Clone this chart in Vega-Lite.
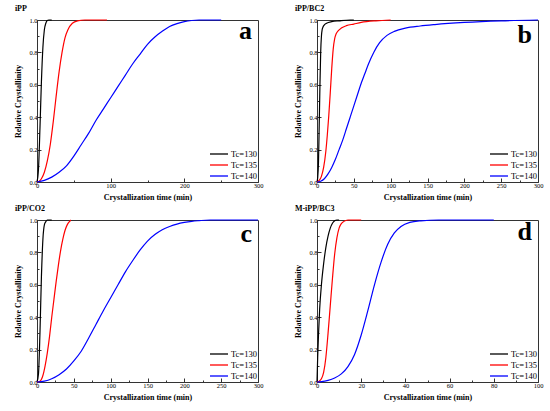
{
  "$schema": "https://vega.github.io/schema/vega-lite/v6.json",
  "background": "white",
  "padding": {"left": 14, "top": 4, "right": 5, "bottom": 5},
  "config": {
    "font": "Liberation Serif",
    "view": {"stroke": "#333", "strokeWidth": 1},
    "axis": {
      "grid": false, "domainColor": "#333", "tickColor": "#333",
      "labelFontSize": 6.5, "labelColor": "black", "labelFont": "Liberation Serif",
      "labelOverlap": false, "labelFlush": false,
      "titleFontSize": 8, "titleFontWeight": "bold", "titleColor": "black",
      "tickSize": -4, "labelPadding": 4, "titlePadding": 3
    },
    "axisY": {"titlePadding": 6},
    "title": {"anchor": "start", "fontSize": 8, "fontWeight": "bold", "offset": 0, "color": "black"},
    "legend": {
      "orient": "bottom-right", "offset": 1, "title": null,
      "symbolType": "M-1.8,0H1.8", "symbolSize": 100, "symbolStrokeWidth": 1.3,
      "labelFontSize": 8.5, "labelFont": "Liberation Serif", "labelColor": "black",
      "rowPadding": 0, "labelOffset": 6, "padding": 0
    }
  },
  "resolve": {"legend": {"color": "independent"}, "scale": {"x": "independent", "y": "independent"}},
  "columns": 2,
  "spacing": {"row": 2, "column": 30},
  "concat": [
    {
      "title": "iPP",
      "width": 221, "height": 162,
      "layer": [
        {
          "data": {"values": [
            {"Tc": "Tc=130", "t": 0, "X": 0}, {"Tc": "Tc=130", "t": 2, "X": 0.08}, {"Tc": "Tc=130", "t": 4, "X": 0.33},
            {"Tc": "Tc=130", "t": 6, "X": 0.62}, {"Tc": "Tc=130", "t": 8, "X": 0.83}, {"Tc": "Tc=130", "t": 10, "X": 0.94},
            {"Tc": "Tc=130", "t": 12, "X": 0.98}, {"Tc": "Tc=130", "t": 14, "X": 0.997}, {"Tc": "Tc=130", "t": 16, "X": 1},
            {"Tc": "Tc=130", "t": 20, "X": 1},
            {"Tc": "Tc=135", "t": 0, "X": 0}, {"Tc": "Tc=135", "t": 3, "X": 0.005}, {"Tc": "Tc=135", "t": 6, "X": 0.02},
            {"Tc": "Tc=135", "t": 10, "X": 0.06}, {"Tc": "Tc=135", "t": 14, "X": 0.13}, {"Tc": "Tc=135", "t": 18, "X": 0.23},
            {"Tc": "Tc=135", "t": 22, "X": 0.37}, {"Tc": "Tc=135", "t": 26, "X": 0.53}, {"Tc": "Tc=135", "t": 30, "X": 0.68},
            {"Tc": "Tc=135", "t": 34, "X": 0.8}, {"Tc": "Tc=135", "t": 38, "X": 0.89}, {"Tc": "Tc=135", "t": 42, "X": 0.94},
            {"Tc": "Tc=135", "t": 48, "X": 0.98}, {"Tc": "Tc=135", "t": 55, "X": 0.995}, {"Tc": "Tc=135", "t": 65, "X": 1},
            {"Tc": "Tc=135", "t": 95, "X": 1},
            {"Tc": "Tc=140", "t": 0, "X": 0}, {"Tc": "Tc=140", "t": 10, "X": 0.01}, {"Tc": "Tc=140", "t": 20, "X": 0.03},
            {"Tc": "Tc=140", "t": 30, "X": 0.06}, {"Tc": "Tc=140", "t": 40, "X": 0.1}, {"Tc": "Tc=140", "t": 50, "X": 0.16},
            {"Tc": "Tc=140", "t": 60, "X": 0.23}, {"Tc": "Tc=140", "t": 70, "X": 0.3}, {"Tc": "Tc=140", "t": 80, "X": 0.38},
            {"Tc": "Tc=140", "t": 90, "X": 0.45}, {"Tc": "Tc=140", "t": 100, "X": 0.52}, {"Tc": "Tc=140", "t": 110, "X": 0.59},
            {"Tc": "Tc=140", "t": 120, "X": 0.66}, {"Tc": "Tc=140", "t": 130, "X": 0.73}, {"Tc": "Tc=140", "t": 140, "X": 0.79},
            {"Tc": "Tc=140", "t": 150, "X": 0.85}, {"Tc": "Tc=140", "t": 160, "X": 0.895}, {"Tc": "Tc=140", "t": 170, "X": 0.93},
            {"Tc": "Tc=140", "t": 180, "X": 0.96}, {"Tc": "Tc=140", "t": 190, "X": 0.978}, {"Tc": "Tc=140", "t": 200, "X": 0.99},
            {"Tc": "Tc=140", "t": 210, "X": 0.997}, {"Tc": "Tc=140", "t": 220, "X": 1}, {"Tc": "Tc=140", "t": 250, "X": 1}
          ]},
          "mark": {"type": "line", "strokeWidth": 1.2, "interpolate": "monotone"},
          "encoding": {
            "x": {"field": "t", "type": "quantitative", "title": "Crystallization time (min)", "scale": {"domain": [0, 300], "nice": false},
              "axis": {"values": [0, 50, 100, 150, 200, 250, 300], "labelOverlap": false, "labelExpr": "datum.value % 100 === 0 ? datum.label : ''", "tickSize": {"condition": {"test": "datum.value % 100 === 0", "value": -4}, "value": -2}}},
            "y": {"field": "X", "type": "quantitative", "title": "Relative Crystallinity", "scale": {"domain": [0, 1], "nice": false},
              "axis": {"values": [0, 0.1, 0.2, 0.3, 0.4, 0.5, 0.6, 0.7, 0.8, 0.9, 1], "format": ".1f", "labelOverlap": false, "labelExpr": "round(datum.value * 10) % 2 === 0 ? datum.label : ''", "tickSize": {"condition": {"test": "round(datum.value * 10) % 2 === 0", "value": -4}, "value": -2}}},
            "color": {"field": "Tc", "type": "nominal", "scale": {"domain": ["Tc=130", "Tc=135", "Tc=140"], "range": ["black", "red", "blue"]}}
          }
        },
        {
          "data": {"values": [{"label": "a"}]},
          "mark": {"type": "text", "fontSize": 26, "fontWeight": "bold", "align": "right", "baseline": "alphabetic", "dx": -6, "dy": 19, "color": "black"},
          "encoding": {
            "x": {"datum": 300, "axis": {"values": [0, 50, 100, 150, 200, 250, 300], "labelOverlap": false, "labelExpr": "datum.value % 100 === 0 ? datum.label : ''", "tickSize": {"condition": {"test": "datum.value % 100 === 0", "value": -4}, "value": -2}}},
            "y": {"datum": 1, "axis": {"values": [0, 0.1, 0.2, 0.3, 0.4, 0.5, 0.6, 0.7, 0.8, 0.9, 1], "format": ".1f", "labelOverlap": false, "labelExpr": "round(datum.value * 10) % 2 === 0 ? datum.label : ''", "tickSize": {"condition": {"test": "round(datum.value * 10) % 2 === 0", "value": -4}, "value": -2}}},
            "text": {"field": "label"}
          }
        }
      ]
    },
    {
      "title": "iPP/BC2",
      "width": 221, "height": 162,
      "layer": [
        {
          "data": {"values": [
            {"Tc": "Tc=130", "t": 0, "X": 0}, {"Tc": "Tc=130", "t": 1, "X": 0.03}, {"Tc": "Tc=130", "t": 2, "X": 0.12},
            {"Tc": "Tc=130", "t": 3, "X": 0.35}, {"Tc": "Tc=130", "t": 4, "X": 0.6}, {"Tc": "Tc=130", "t": 5, "X": 0.8},
            {"Tc": "Tc=130", "t": 6, "X": 0.9}, {"Tc": "Tc=130", "t": 7, "X": 0.94}, {"Tc": "Tc=130", "t": 8, "X": 0.955},
            {"Tc": "Tc=130", "t": 10, "X": 0.97}, {"Tc": "Tc=130", "t": 13, "X": 0.98}, {"Tc": "Tc=130", "t": 20, "X": 0.99},
            {"Tc": "Tc=130", "t": 30, "X": 0.995}, {"Tc": "Tc=130", "t": 45, "X": 1}, {"Tc": "Tc=130", "t": 50, "X": 1},
            {"Tc": "Tc=135", "t": 0, "X": 0}, {"Tc": "Tc=135", "t": 3, "X": 0.01}, {"Tc": "Tc=135", "t": 6, "X": 0.035},
            {"Tc": "Tc=135", "t": 9, "X": 0.09}, {"Tc": "Tc=135", "t": 12, "X": 0.19}, {"Tc": "Tc=135", "t": 14, "X": 0.29},
            {"Tc": "Tc=135", "t": 16, "X": 0.41}, {"Tc": "Tc=135", "t": 18, "X": 0.55}, {"Tc": "Tc=135", "t": 20, "X": 0.7},
            {"Tc": "Tc=135", "t": 22, "X": 0.82}, {"Tc": "Tc=135", "t": 24, "X": 0.885}, {"Tc": "Tc=135", "t": 26, "X": 0.915},
            {"Tc": "Tc=135", "t": 29, "X": 0.935}, {"Tc": "Tc=135", "t": 33, "X": 0.95}, {"Tc": "Tc=135", "t": 40, "X": 0.965},
            {"Tc": "Tc=135", "t": 50, "X": 0.975}, {"Tc": "Tc=135", "t": 60, "X": 0.985}, {"Tc": "Tc=135", "t": 80, "X": 0.995},
            {"Tc": "Tc=135", "t": 100, "X": 1},
            {"Tc": "Tc=140", "t": 0, "X": 0}, {"Tc": "Tc=140", "t": 5, "X": 0.005}, {"Tc": "Tc=140", "t": 10, "X": 0.02},
            {"Tc": "Tc=140", "t": 15, "X": 0.05}, {"Tc": "Tc=140", "t": 20, "X": 0.09}, {"Tc": "Tc=140", "t": 25, "X": 0.14},
            {"Tc": "Tc=140", "t": 30, "X": 0.2}, {"Tc": "Tc=140", "t": 35, "X": 0.26}, {"Tc": "Tc=140", "t": 40, "X": 0.33},
            {"Tc": "Tc=140", "t": 45, "X": 0.4}, {"Tc": "Tc=140", "t": 50, "X": 0.47}, {"Tc": "Tc=140", "t": 55, "X": 0.54},
            {"Tc": "Tc=140", "t": 60, "X": 0.61}, {"Tc": "Tc=140", "t": 65, "X": 0.67}, {"Tc": "Tc=140", "t": 70, "X": 0.73},
            {"Tc": "Tc=140", "t": 77, "X": 0.8}, {"Tc": "Tc=140", "t": 85, "X": 0.86}, {"Tc": "Tc=140", "t": 95, "X": 0.905},
            {"Tc": "Tc=140", "t": 105, "X": 0.93}, {"Tc": "Tc=140", "t": 120, "X": 0.95}, {"Tc": "Tc=140", "t": 140, "X": 0.963},
            {"Tc": "Tc=140", "t": 160, "X": 0.972}, {"Tc": "Tc=140", "t": 200, "X": 0.985}, {"Tc": "Tc=140", "t": 250, "X": 0.995},
            {"Tc": "Tc=140", "t": 300, "X": 1}
          ]},
          "mark": {"type": "line", "strokeWidth": 1.2, "interpolate": "monotone"},
          "encoding": {
            "x": {"field": "t", "type": "quantitative", "title": "Crystallization time (min)", "scale": {"domain": [0, 300], "nice": false},
              "axis": {"values": [0, 25, 50, 75, 100, 125, 150, 175, 200, 225, 250, 275, 300], "labelOverlap": false, "labelExpr": "datum.value % 50 === 0 ? datum.label : ''", "tickSize": {"condition": {"test": "datum.value % 50 === 0", "value": -4}, "value": -2}}},
            "y": {"field": "X", "type": "quantitative", "title": "Relative Crystallinity", "scale": {"domain": [0, 1], "nice": false},
              "axis": {"values": [0, 0.1, 0.2, 0.3, 0.4, 0.5, 0.6, 0.7, 0.8, 0.9, 1], "format": ".1f", "labelOverlap": false, "labelExpr": "round(datum.value * 10) % 2 === 0 ? datum.label : ''", "tickSize": {"condition": {"test": "round(datum.value * 10) % 2 === 0", "value": -4}, "value": -2}}},
            "color": {"field": "Tc", "type": "nominal", "scale": {"domain": ["Tc=130", "Tc=135", "Tc=140"], "range": ["black", "red", "blue"]}}
          }
        },
        {
          "data": {"values": [{"label": "b"}]},
          "mark": {"type": "text", "fontSize": 26, "fontWeight": "bold", "align": "right", "baseline": "alphabetic", "dx": -6, "dy": 23, "color": "black"},
          "encoding": {
            "x": {"datum": 300, "axis": {"values": [0, 25, 50, 75, 100, 125, 150, 175, 200, 225, 250, 275, 300], "labelOverlap": false, "labelExpr": "datum.value % 50 === 0 ? datum.label : ''", "tickSize": {"condition": {"test": "datum.value % 50 === 0", "value": -4}, "value": -2}}},
            "y": {"datum": 1, "axis": {"values": [0, 0.1, 0.2, 0.3, 0.4, 0.5, 0.6, 0.7, 0.8, 0.9, 1], "format": ".1f", "labelOverlap": false, "labelExpr": "round(datum.value * 10) % 2 === 0 ? datum.label : ''", "tickSize": {"condition": {"test": "round(datum.value * 10) % 2 === 0", "value": -4}, "value": -2}}},
            "text": {"field": "label"}
          }
        }
      ]
    },
    {
      "title": "iPP/CO2",
      "width": 221, "height": 162,
      "layer": [
        {
          "data": {"values": [
            {"Tc": "Tc=130", "t": 0, "X": 0}, {"Tc": "Tc=130", "t": 2, "X": 0.05}, {"Tc": "Tc=130", "t": 4, "X": 0.3},
            {"Tc": "Tc=130", "t": 6, "X": 0.65}, {"Tc": "Tc=130", "t": 8, "X": 0.88}, {"Tc": "Tc=130", "t": 10, "X": 0.97},
            {"Tc": "Tc=130", "t": 12, "X": 0.99}, {"Tc": "Tc=130", "t": 14, "X": 1}, {"Tc": "Tc=130", "t": 20, "X": 1},
            {"Tc": "Tc=135", "t": 0, "X": 0}, {"Tc": "Tc=135", "t": 4, "X": 0.005}, {"Tc": "Tc=135", "t": 8, "X": 0.04},
            {"Tc": "Tc=135", "t": 11, "X": 0.1}, {"Tc": "Tc=135", "t": 14, "X": 0.18}, {"Tc": "Tc=135", "t": 17, "X": 0.28},
            {"Tc": "Tc=135", "t": 20, "X": 0.4}, {"Tc": "Tc=135", "t": 23, "X": 0.51}, {"Tc": "Tc=135", "t": 26, "X": 0.62},
            {"Tc": "Tc=135", "t": 29, "X": 0.72}, {"Tc": "Tc=135", "t": 32, "X": 0.81}, {"Tc": "Tc=135", "t": 35, "X": 0.88},
            {"Tc": "Tc=135", "t": 38, "X": 0.935}, {"Tc": "Tc=135", "t": 41, "X": 0.97}, {"Tc": "Tc=135", "t": 44, "X": 0.99},
            {"Tc": "Tc=135", "t": 46, "X": 1},
            {"Tc": "Tc=140", "t": 0, "X": 0}, {"Tc": "Tc=140", "t": 10, "X": 0.005}, {"Tc": "Tc=140", "t": 20, "X": 0.02},
            {"Tc": "Tc=140", "t": 30, "X": 0.045}, {"Tc": "Tc=140", "t": 40, "X": 0.08}, {"Tc": "Tc=140", "t": 50, "X": 0.13},
            {"Tc": "Tc=140", "t": 60, "X": 0.19}, {"Tc": "Tc=140", "t": 70, "X": 0.27}, {"Tc": "Tc=140", "t": 80, "X": 0.355},
            {"Tc": "Tc=140", "t": 90, "X": 0.44}, {"Tc": "Tc=140", "t": 100, "X": 0.52}, {"Tc": "Tc=140", "t": 110, "X": 0.6},
            {"Tc": "Tc=140", "t": 120, "X": 0.68}, {"Tc": "Tc=140", "t": 130, "X": 0.75}, {"Tc": "Tc=140", "t": 140, "X": 0.815},
            {"Tc": "Tc=140", "t": 150, "X": 0.87}, {"Tc": "Tc=140", "t": 160, "X": 0.91}, {"Tc": "Tc=140", "t": 170, "X": 0.94},
            {"Tc": "Tc=140", "t": 180, "X": 0.96}, {"Tc": "Tc=140", "t": 190, "X": 0.975}, {"Tc": "Tc=140", "t": 200, "X": 0.985},
            {"Tc": "Tc=140", "t": 210, "X": 0.992}, {"Tc": "Tc=140", "t": 220, "X": 0.996}, {"Tc": "Tc=140", "t": 235, "X": 1},
            {"Tc": "Tc=140", "t": 300, "X": 1}
          ]},
          "mark": {"type": "line", "strokeWidth": 1.2, "interpolate": "monotone"},
          "encoding": {
            "x": {"field": "t", "type": "quantitative", "title": "Crystallization time (min)", "scale": {"domain": [0, 300], "nice": false},
              "axis": {"values": [0, 25, 50, 75, 100, 125, 150, 175, 200, 225, 250, 275, 300], "labelOverlap": false, "labelExpr": "datum.value % 50 === 0 ? datum.label : ''", "tickSize": {"condition": {"test": "datum.value % 50 === 0", "value": -4}, "value": -2}}},
            "y": {"field": "X", "type": "quantitative", "title": "Relative Crystallinity", "scale": {"domain": [0, 1], "nice": false},
              "axis": {"values": [0, 0.1, 0.2, 0.3, 0.4, 0.5, 0.6, 0.7, 0.8, 0.9, 1], "format": ".1f", "labelOverlap": false, "labelExpr": "round(datum.value * 10) % 2 === 0 ? datum.label : ''", "tickSize": {"condition": {"test": "round(datum.value * 10) % 2 === 0", "value": -4}, "value": -2}}},
            "color": {"field": "Tc", "type": "nominal", "scale": {"domain": ["Tc=130", "Tc=135", "Tc=140"], "range": ["black", "red", "blue"]}}
          }
        },
        {
          "data": {"values": [{"label": "c"}]},
          "mark": {"type": "text", "fontSize": 26, "fontWeight": "bold", "align": "right", "baseline": "alphabetic", "dx": -6, "dy": 22, "color": "black"},
          "encoding": {
            "x": {"datum": 300, "axis": {"values": [0, 25, 50, 75, 100, 125, 150, 175, 200, 225, 250, 275, 300], "labelOverlap": false, "labelExpr": "datum.value % 50 === 0 ? datum.label : ''", "tickSize": {"condition": {"test": "datum.value % 50 === 0", "value": -4}, "value": -2}}},
            "y": {"datum": 1, "axis": {"values": [0, 0.1, 0.2, 0.3, 0.4, 0.5, 0.6, 0.7, 0.8, 0.9, 1], "format": ".1f", "labelOverlap": false, "labelExpr": "round(datum.value * 10) % 2 === 0 ? datum.label : ''", "tickSize": {"condition": {"test": "round(datum.value * 10) % 2 === 0", "value": -4}, "value": -2}}},
            "text": {"field": "label"}
          }
        }
      ]
    },
    {
      "title": "M-iPP/BC3",
      "width": 221, "height": 162,
      "layer": [
        {
          "data": {"values": [
            {"Tc": "Tc=130", "t": 0, "X": 0}, {"Tc": "Tc=130", "t": 0.3, "X": 0.15}, {"Tc": "Tc=130", "t": 0.7, "X": 0.3},
            {"Tc": "Tc=130", "t": 1.2, "X": 0.45}, {"Tc": "Tc=130", "t": 2, "X": 0.6}, {"Tc": "Tc=130", "t": 3, "X": 0.73},
            {"Tc": "Tc=130", "t": 4, "X": 0.83}, {"Tc": "Tc=130", "t": 5, "X": 0.9}, {"Tc": "Tc=130", "t": 6, "X": 0.95},
            {"Tc": "Tc=130", "t": 7, "X": 0.98}, {"Tc": "Tc=130", "t": 8, "X": 0.995}, {"Tc": "Tc=130", "t": 9, "X": 1},
            {"Tc": "Tc=130", "t": 10, "X": 1},
            {"Tc": "Tc=135", "t": 0, "X": 0}, {"Tc": "Tc=135", "t": 1, "X": 0.005}, {"Tc": "Tc=135", "t": 2, "X": 0.02},
            {"Tc": "Tc=135", "t": 3, "X": 0.06}, {"Tc": "Tc=135", "t": 4, "X": 0.15}, {"Tc": "Tc=135", "t": 5, "X": 0.3},
            {"Tc": "Tc=135", "t": 6, "X": 0.47}, {"Tc": "Tc=135", "t": 7, "X": 0.64}, {"Tc": "Tc=135", "t": 8, "X": 0.79},
            {"Tc": "Tc=135", "t": 9, "X": 0.89}, {"Tc": "Tc=135", "t": 10, "X": 0.95}, {"Tc": "Tc=135", "t": 11, "X": 0.978},
            {"Tc": "Tc=135", "t": 12, "X": 0.99}, {"Tc": "Tc=135", "t": 14, "X": 1}, {"Tc": "Tc=135", "t": 20, "X": 1},
            {"Tc": "Tc=140", "t": 0, "X": 0}, {"Tc": "Tc=140", "t": 2, "X": 0.002}, {"Tc": "Tc=140", "t": 5, "X": 0.01},
            {"Tc": "Tc=140", "t": 8, "X": 0.025}, {"Tc": "Tc=140", "t": 11, "X": 0.05}, {"Tc": "Tc=140", "t": 14, "X": 0.095},
            {"Tc": "Tc=140", "t": 17, "X": 0.17}, {"Tc": "Tc=140", "t": 20, "X": 0.29}, {"Tc": "Tc=140", "t": 23, "X": 0.44},
            {"Tc": "Tc=140", "t": 26, "X": 0.6}, {"Tc": "Tc=140", "t": 29, "X": 0.74}, {"Tc": "Tc=140", "t": 32, "X": 0.85},
            {"Tc": "Tc=140", "t": 35, "X": 0.92}, {"Tc": "Tc=140", "t": 38, "X": 0.96}, {"Tc": "Tc=140", "t": 42, "X": 0.985},
            {"Tc": "Tc=140", "t": 47, "X": 0.995}, {"Tc": "Tc=140", "t": 55, "X": 1}, {"Tc": "Tc=140", "t": 80, "X": 1}
          ]},
          "mark": {"type": "line", "strokeWidth": 1.2, "interpolate": "monotone"},
          "encoding": {
            "x": {"field": "t", "type": "quantitative", "title": "Crystallization time (min)", "scale": {"domain": [0, 100], "nice": false},
              "axis": {"values": [0, 10, 20, 30, 40, 50, 60, 70, 80, 90, 100], "labelOverlap": false, "labelExpr": "datum.value % 20 === 0 ? datum.label : ''", "tickSize": {"condition": {"test": "datum.value % 20 === 0", "value": -4}, "value": -2}}},
            "y": {"field": "X", "type": "quantitative", "title": "Relative Crystallinity", "scale": {"domain": [0, 1], "nice": false},
              "axis": {"values": [0, 0.1, 0.2, 0.3, 0.4, 0.5, 0.6, 0.7, 0.8, 0.9, 1], "format": ".1f", "labelOverlap": false, "labelExpr": "round(datum.value * 10) % 2 === 0 ? datum.label : ''", "tickSize": {"condition": {"test": "round(datum.value * 10) % 2 === 0", "value": -4}, "value": -2}}},
            "color": {"field": "Tc", "type": "nominal", "scale": {"domain": ["Tc=130", "Tc=135", "Tc=140"], "range": ["black", "red", "blue"]}}
          }
        },
        {
          "data": {"values": [{"label": "d"}]},
          "mark": {"type": "text", "fontSize": 26, "fontWeight": "bold", "align": "right", "baseline": "alphabetic", "dx": -6, "dy": 20, "color": "black"},
          "encoding": {
            "x": {"datum": 100, "axis": {"values": [0, 10, 20, 30, 40, 50, 60, 70, 80, 90, 100], "labelOverlap": false, "labelExpr": "datum.value % 20 === 0 ? datum.label : ''", "tickSize": {"condition": {"test": "datum.value % 20 === 0", "value": -4}, "value": -2}}},
            "y": {"datum": 1, "axis": {"values": [0, 0.1, 0.2, 0.3, 0.4, 0.5, 0.6, 0.7, 0.8, 0.9, 1], "format": ".1f", "labelOverlap": false, "labelExpr": "round(datum.value * 10) % 2 === 0 ? datum.label : ''", "tickSize": {"condition": {"test": "round(datum.value * 10) % 2 === 0", "value": -4}, "value": -2}}},
            "text": {"field": "label"}
          }
        }
      ]
    }
  ]
}
